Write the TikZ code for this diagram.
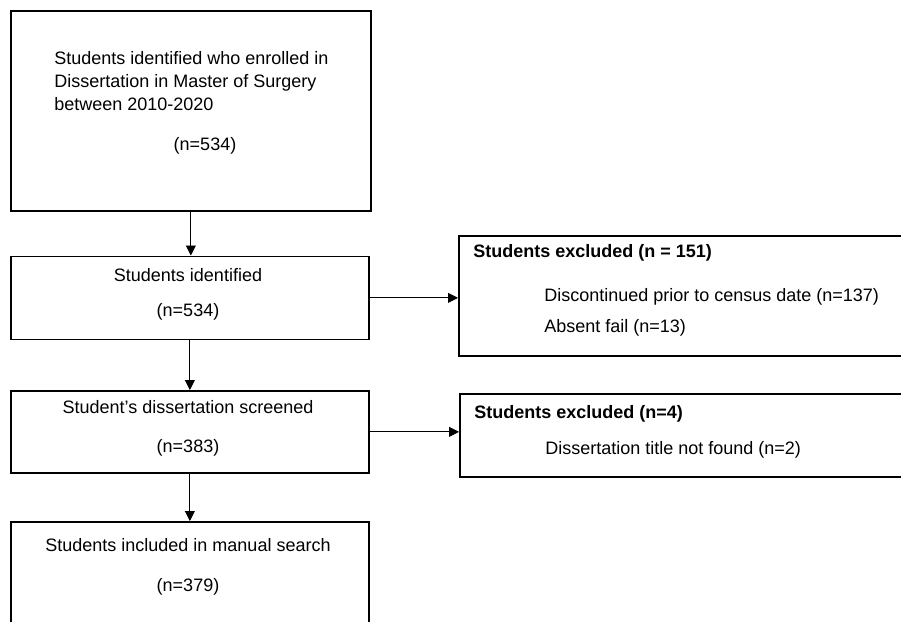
\documentclass[tikz,border=0pt]{standalone}
\usepackage{fontspec}
\setmainfont{Liberation Sans}
\usetikzlibrary{arrows.meta}
\usetikzlibrary{positioning}

\begin{document}
\begin{tikzpicture}[x=0.75pt,y=-0.75pt]
	\useasboundingbox (0,0) rectangle (901,622);
	\clip (0,0) rectangle (901,622);
	          \begin{scope}[every node/.style={rectangle,draw=black,line width=1.3pt,anchor=north west,inner sep=0pt}]
	            \node[minimum width=270pt,minimum height=150pt] (enrol) at (10,10) {};
	            \node[minimum width=268.5pt,minimum height=62.25pt] (ident) at (10,255.5) {};
	            \node[minimum width=268.5pt,minimum height=61.5pt] (screen) at (10,390) {};
	            \node[minimum width=268.5pt,minimum height=82.5pt] (incl) at (10,521) {};
	            \node[minimum width=339pt,minimum height=90pt] (excla) at (458,235) {};
	            \node[minimum width=338.25pt,minimum height=62.25pt] (exclb) at (459,393) {};
	          \end{scope}
	          \begin{scope}[every node/.style={inner sep=0pt,font=\fontsize{13.5}{17.25}\selectfont}]
	            \node[anchor=west,align=left] (enroltxt) at (54,81) {Students identified who enrolled in\\Dissertation in Master of Surgery\\between 2010-2020};
	            \node (enroln) at (205,146) {(n=534)};
	            \node (identtxt) at (188,275) {Students identified};
	            \node (identn) at (188,312) {(n=534)};
	            \node (screentxt) at (188,407) {Student’s dissertation screened};
	            \node (screenn) at (188,448) {(n=383)};
	            \node (incltxt) at (188,545) {Students included in manual search};
	            \node (incln) at (188,587) {(n=379)};
	            \node[anchor=west,font=\fontsize{13.5}{17.25}\selectfont\bfseries] (exclahead) at (473,253) {Students excluded (n = 151)};
	            \node[anchor=west] (disc) at (544,297) {Discontinued prior to census date (n=137)};
	            \node[anchor=west] (absent) at (544,328) {Absent fail (n=13)};
	            \node[anchor=west,font=\fontsize{13.5}{17.25}\selectfont\bfseries] (exclbhead) at (474,414) {Students excluded (n=4)};
	            \node[anchor=west] (notfound) at (545,450) {Dissertation title not found (n=2)};
	          \end{scope}
	          \begin{scope}[every edge/.style={draw=black,line width=0.7pt,-{Triangle[length=7.5pt,width=7.5pt]}}]
	            \path (enrol.south) edge (enrol.south |- ident.north);
	            \path (ident.south) edge (ident.south |- screen.north);
	            \path (screen.south) edge (screen.south |- incl.north);
	            \path (ident.east) edge (ident.east -| excla.west);
	            \path (screen.east) edge (screen.east -| exclb.west);
	          \end{scope}
	        \end{tikzpicture}
\end{document}
